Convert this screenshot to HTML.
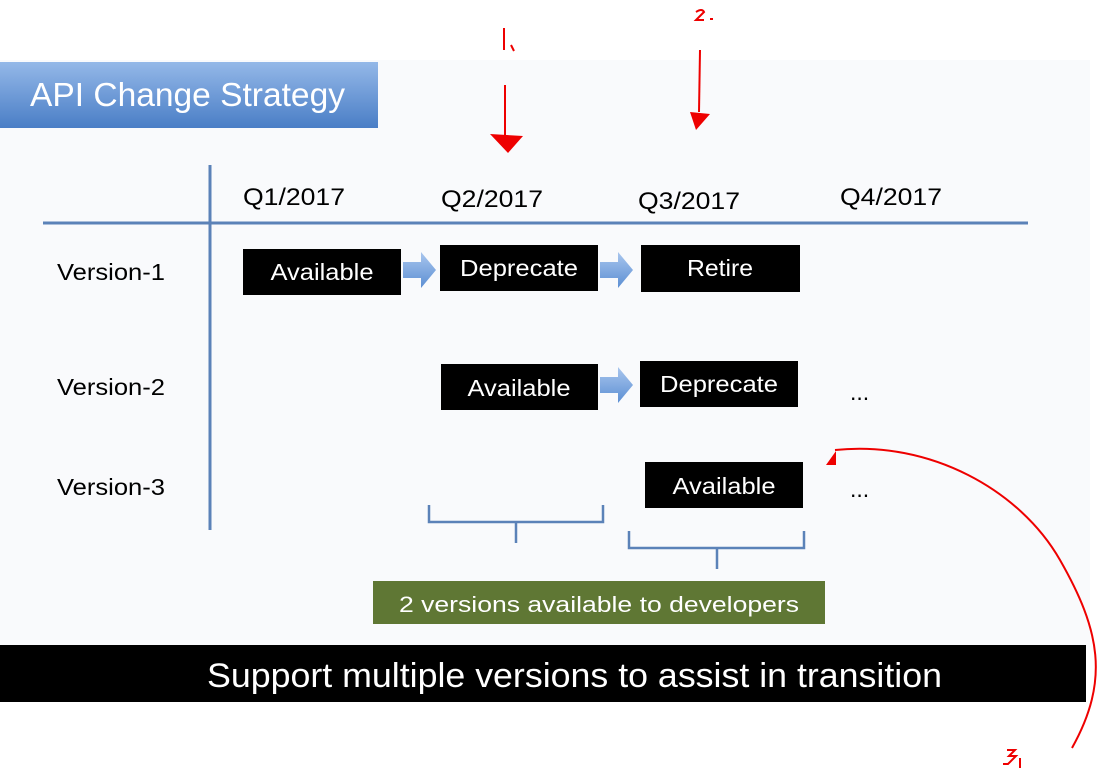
<!DOCTYPE html>
<html><head><style>
body{margin:0;width:1118px;height:771px;overflow:hidden;background:#fff;}
svg{display:block;}
text{font-family:"Liberation Sans",sans-serif;}
</style></head><body>
<svg width="1118" height="771" viewBox="0 0 1118 771">
<defs>
<linearGradient id="tg" x1="0" y1="0" x2="0" y2="1"><stop offset="0" stop-color="#94b8e8"/><stop offset="1" stop-color="#4a7ec6"/></linearGradient>
<linearGradient id="ag" x1="0" y1="0" x2="0" y2="1"><stop offset="0" stop-color="#a9c6ee"/><stop offset="1" stop-color="#5c8fd3"/></linearGradient>
</defs>
<rect x="0" y="60" width="1090" height="590" fill="#f9fafc"/>
<rect x="0" y="62" width="378" height="66" fill="url(#tg)"/>
<text x="30" y="106" font-size="33" fill="#fff" textLength="315" lengthAdjust="spacingAndGlyphs">API Change Strategy</text>
<line x1="210" y1="165" x2="210" y2="530" stroke="#5b82b8" stroke-width="3"/>
<line x1="43" y1="223" x2="1028" y2="223" stroke="#5b82b8" stroke-width="3"/>
<g font-size="24" fill="#000">
<text x="243" y="205" textLength="102" lengthAdjust="spacingAndGlyphs">Q1/2017</text><text x="441" y="207" textLength="102" lengthAdjust="spacingAndGlyphs">Q2/2017</text>
<text x="638" y="209" textLength="102" lengthAdjust="spacingAndGlyphs">Q3/2017</text><text x="840" y="205" textLength="102" lengthAdjust="spacingAndGlyphs">Q4/2017</text>
</g>
<g font-size="23" fill="#000">
<text x="57" y="280" textLength="108" lengthAdjust="spacingAndGlyphs">Version-1</text><text x="57" y="395" textLength="108" lengthAdjust="spacingAndGlyphs">Version-2</text><text x="57" y="495" textLength="108" lengthAdjust="spacingAndGlyphs">Version-3</text>
<text x="850" y="400">...</text><text x="850" y="497">...</text>
</g>
<g fill="#000">
<rect x="243" y="249" width="158" height="46"/><rect x="440" y="245" width="158" height="46"/>
<rect x="641" y="245" width="159" height="47"/><rect x="441" y="364" width="157" height="46"/>
<rect x="640" y="361" width="158" height="46"/><rect x="645" y="462" width="158" height="46"/>
</g>
<g font-size="23" fill="#fff" text-anchor="middle">
<text x="322" y="280" textLength="103" lengthAdjust="spacingAndGlyphs">Available</text><text x="519" y="276" textLength="118" lengthAdjust="spacingAndGlyphs">Deprecate</text>
<text x="720" y="276" textLength="66" lengthAdjust="spacingAndGlyphs">Retire</text><text x="519" y="396" textLength="103" lengthAdjust="spacingAndGlyphs">Available</text>
<text x="719" y="392" textLength="118" lengthAdjust="spacingAndGlyphs">Deprecate</text><text x="724" y="494" textLength="103" lengthAdjust="spacingAndGlyphs">Available</text>
</g>
<g fill="url(#ag)">
<path d="M403 262h18v-10l15 18-15 18v-10h-18z"/>
<path d="M600 262h18v-10l15 18-15 18v-10h-18z"/>
<path d="M600 377h18v-10l15 18-15 18v-10h-18z"/>
</g>
<g fill="none" stroke="#5b82b8" stroke-width="2.5">
<path d="M429 505v17h174v-17M516 522v21"/>
<path d="M629 531v17h175v-17M717 548v21"/>
</g>
<rect x="373" y="581" width="452" height="43" fill="#5f7734"/>
<text x="399" y="612" font-size="22" fill="#fff" textLength="400" lengthAdjust="spacingAndGlyphs">2 versions available  to developers</text>
<rect x="0" y="645" width="1086" height="57" fill="#000"/>
<text x="207" y="687" font-size="34" fill="#fff" textLength="735" lengthAdjust="spacingAndGlyphs">Support multiple versions to assist in transition</text>
<g stroke="#e00" stroke-width="2" fill="none">
<path d="M504 28v22M511 45l3 6"/>
<path d="M505 85v50"/>
<path d="M696 12q6-4 8 0l-8 8h8M710 19h3"/>
<path d="M700 50l-1 62"/>
<path d="M835 450C930 440 1020 490 1060 560S1110 680 1072 748"/>
<path d="M1007 750h8l-6 6h7l-8 8h-5M1020 758v10"/>
</g>
<g fill="#e00">
<path d="M490 134l33 2-15 17z"/>
<path d="M690 112l20 2-14 16z"/>
<path d="M826 465l10-14v14z"/>
</g>
</svg>
</body></html>
